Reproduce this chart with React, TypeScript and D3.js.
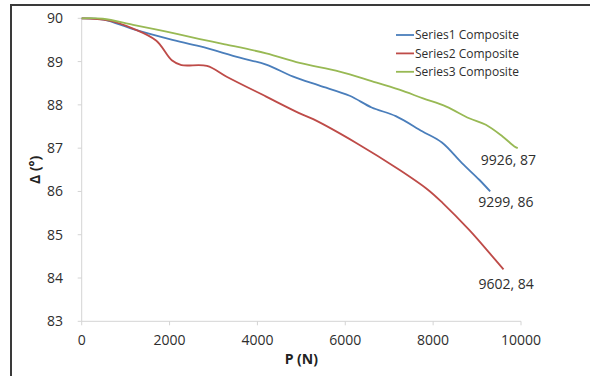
import * as d3 from "d3";

// P (N) values and angle for each composite
const s1P = [0, 500, 1170, 2000, 2700, 3600, 4200, 4800, 5400, 6100, 6600, 7150, 7750, 8200, 8650, 9050, 9299];
const s1A = [90, 89.97, 89.75, 89.52, 89.35, 89.09, 88.93, 88.66, 88.45, 88.21, 87.94, 87.74, 87.39, 87.13, 86.66, 86.27, 86.0];

const s2P = [0, 600, 1170, 1700, 2050, 2270, 2850, 3300, 4200, 4950, 5270, 6250, 7230, 7880, 8220, 8820, 9280, 9602];
const s2A = [90, 89.95, 89.76, 89.48, 89.03, 88.92, 88.9, 88.65, 88.19, 87.81, 87.67, 87.12, 86.5, 86.04, 85.73, 85.11, 84.58, 84.2];

const s3P = [0, 480, 1170, 1930, 2690, 3260, 4200, 4960, 5870, 6600, 7230, 7770, 8300, 8820, 9200, 9580, 9850, 9926];
const s3A = [90, 89.99, 89.85, 89.69, 89.52, 89.4, 89.19, 88.97, 88.77, 88.55, 88.35, 88.15, 87.96, 87.69, 87.54, 87.27, 87.04, 87.0];

const seriesNames = ["Series1 Composite", "Series2 Composite", "Series3 Composite"];
const endLabels = ["9299, 86", "9602, 84", "9926, 87"];
const xTicks = [0, 2000, 4000, 6000, 8000, 10000];
const yTicks = [83, 84, 85, 86, 87, 88, 89, 90];

const colors = ["#4a7ebb", "#be4b48", "#98b954"];
// where each end label sits relative to the last point
const labelShift = [
  [-12, 16],
  [-25, 20],
  [-37, 17],
];

const W = 590;
const H = 376;
const font = "'Open Sans', sans-serif";

export default function App() {
  const x = d3.scaleLinear().domain([0, 10000]).range([81.7, 521]);
  const y = d3.scaleLinear().domain([83, 90]).range([321.3, 18.3]);

  const series = [
    s1P.map((p, i) => [p, s1A[i]]),
    s2P.map((p, i) => [p, s2A[i]]),
    s3P.map((p, i) => [p, s3A[i]]),
  ];

  const line = d3
    .line<number[]>()
    .x((d) => x(d[0]))
    .y((d) => y(d[1]))
    .curve(d3.curveCatmullRom.alpha(0.5));

  const [x0, x1] = x.range();
  const [yb, yt] = y.range();

  return (
    <div style={{ position: "absolute", left: 0, top: 0 }}>
      <svg width={W} height={H} style={{ display: "block", fontFamily: font }}>
        <rect width={W} height={H} fill="white" />
        {/* frame */}
        <line x1={11} x2={W} y1={5} y2={5} stroke="#3a3a3a" strokeWidth={2} />
        <line x1={11} x2={11} y1={4} y2={H} stroke="#3a3a3a" strokeWidth={2} />

        {/* axes */}
        <g stroke="#d4d4d4" strokeWidth={1}>
          <line x1={x0} x2={x1} y1={yb} y2={yb} />
          <line x1={x0} x2={x0} y1={yb} y2={yt} />
          {xTicks.map((t) => (
            <line key={t} x1={x(t)} x2={x(t)} y1={yb} y2={yb + 4} />
          ))}
          {yTicks.map((t) => (
            <line key={t} x1={x0 - 4} x2={x0} y1={y(t)} y2={y(t)} />
          ))}
        </g>
        <g fill="#2e2e2e" fontSize={14}>
          {xTicks.map((t) => (
            <text key={t} x={x(t)} y={345} textAnchor="middle">
              {t}
            </text>
          ))}
          {yTicks.map((t) => (
            <text key={t} x={63} y={y(t) + 5} textAnchor="end">
              {t}
            </text>
          ))}
        </g>
        <text x={(x0 + x1) / 2} y={364} textAnchor="middle" fontSize={14} fontWeight="bold" fill="#222">
          P (N)
        </text>
        <text
          transform={`translate(40,${(yb + yt) / 2}) rotate(-90)`}
          textAnchor="middle"
          fontSize={14}
          fontWeight="bold"
          fill="#222"
        >
          Δ (°)
        </text>

        {/* curves */}
        {series.map((s, i) => (
          <path key={i} d={line(s) || ""} fill="none" stroke={colors[i]} strokeWidth={1.8} />
        ))}

        {/* end labels */}
        {series.map((s, i) => {
          const last = s[s.length - 1];
          return (
            <text
              key={i}
              x={x(last[0]) + labelShift[i][0]}
              y={y(last[1]) + labelShift[i][1]}
              fontSize={14}
              fill="#2e2e2e"
            >
              {endLabels[i]}
            </text>
          );
        })}

        {/* legend */}
        {seriesNames.map((n, i) => (
          <g key={n} transform={`translate(396,${35 + i * 18.4})`}>
            <line x1={0} x2={18} y1={0} y2={0} stroke={colors[i]} strokeWidth={1.8} />
            <text x={19} y={4.3} fontSize={12} fill="#2e2e2e">
              {n}
            </text>
          </g>
        ))}
      </svg>
    </div>
  );
}
